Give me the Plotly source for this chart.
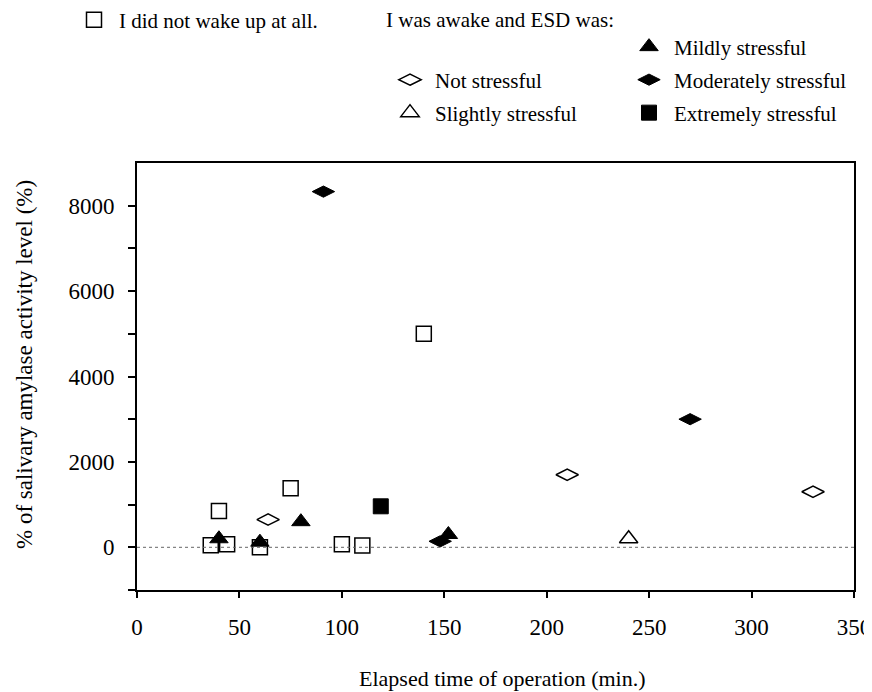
import plotly.graph_objects as go

# ---- data ----
no_wake_x = [36, 40, 44, 60, 75, 100, 110, 140]
no_wake_y = [50, 850, 70, 0, 1380, 70, 40, 5000]

not_x = [64, 210, 330]
not_y = [650, 1700, 1300]

slight_x = [240]
slight_y = [200]

mild_x = [40, 60, 80, 152]
mild_y = [200, 120, 600, 300]

moderate_x = [91, 148, 270]
moderate_y = [8330, 140, 3000]

extreme_x = [119]
extreme_y = [960]

x_ticks = [0, 50, 100, 150, 200, 250, 300, 350]
y_ticks = [0, 2000, 4000, 6000, 8000]
y_minor = [-1000, 1000, 3000, 5000, 7000]

FONT = "Liberation Serif"
OFF = 8                      # page body margin of the html page
W, H = 872 - OFF, 692 - OFF  # figure size so the picture fills the window
# plot area in window pixels: x 137..854, y 163..590
ML, MT = 137 - OFF, 163 - OFF
MR, MB = 872 - 854, 692 - 590
PW, PH = W - ML - MR, H - MT - MB
ITEMW = 40

def px2paper(px, py):
    """window pixel -> paper coordinates"""
    return (px - OFF - ML) / PW, (H - MB - (py - OFF)) / PH

fig = go.Figure()

def add(x, y, name, symbol, size, filled, legend):
    fig.add_trace(go.Scatter(
        x=x, y=y, mode="markers", name=name, legend=legend, showlegend=True,
        marker=dict(symbol=symbol, size=size, color="black",
                    line=dict(color="black", width=1 if filled else 1.5)),
    ))

add(no_wake_x, no_wake_y, "I did not wake up at all.", "square-open", 15, False, "legend")
add(not_x, not_y, "Not stressful", "diamond-wide-open", 16, False, "legend3")
add(slight_x, slight_y, "Slightly stressful", "triangle-up-open", 16, False, "legend5")
add(mild_x, mild_y, "Mildly stressful", "triangle-up", 16, True, "legend2")
add(moderate_x, moderate_y, "Moderately stressful", "diamond-wide", 16, True, "legend4")
add(extreme_x, extreme_y, "Extremely stressful", "square", 15, True, "legend6")

def leg(sym_px, py):
    # sym_px: window x of the legend symbol centre
    left = sym_px - ITEMW / 2 - 5
    return dict(xref="container", yref="container",
                x=(left - OFF) / W, y=1 - (py - OFF) / H,
                xanchor="left", yanchor="middle", bgcolor="rgba(0,0,0,0)",
                font=dict(family=FONT, size=21, color="black"),
                itemwidth=ITEMW, borderwidth=0)

def ann(text, px, py, xanchor="center", angle=0, size=22):
    ax, ay = px2paper(px, py)
    return dict(text=text, xref="paper", yref="paper", x=ax, y=ay,
                xanchor=xanchor, yanchor="middle", textangle=angle,
                showarrow=False, font=dict(family=FONT, size=size, color="black"))

fig.update_layout(
    width=W, height=H,
    paper_bgcolor="white", plot_bgcolor="white",
    showlegend=True,
    margin=dict(l=ML, r=MR, t=MT, b=MB, autoexpand=False),
    font=dict(family=FONT, size=22, color="black"),
    legend=leg(94, 20),
    legend2=leg(649, 47),
    legend3=leg(410, 80),
    legend4=leg(649, 80),
    legend5=leg(410, 113),
    legend6=leg(649, 113),
    xaxis=dict(range=[0, 350], tickvals=x_ticks, showgrid=False, zeroline=False,
               showline=True, linecolor="black", linewidth=2, mirror=True,
               ticks="outside", ticklen=6, tickwidth=1.5, tickcolor="black",
               tickfont=dict(family=FONT, size=23), ticklabelstandoff=9,
               automargin=False),
    yaxis=dict(range=[-1000, 9000], tickvals=y_ticks, tickformat="d",
               showgrid=False, zeroline=False,
               showline=True, linecolor="black", linewidth=2, mirror=True,
               ticks="outside", ticklen=7, tickwidth=1.5, tickcolor="black",
               tickfont=dict(family=FONT, size=23), ticklabelstandoff=9,
               automargin=False,
               minor=dict(tickvals=y_minor, ticks="outside", ticklen=7,
                          tickwidth=1.5, tickcolor="black", showgrid=False)),
    shapes=[dict(type="line", xref="paper", x0=0, x1=1, yref="y", y0=0, y1=0,
                 line=dict(color="#666666", width=1, dash="dot"))],
    annotations=[
        ann("I was awake and ESD was:", 384, 20, xanchor="left", size=21),
        ann("Elapsed time of operation (min.)", 502, 678, size=22),
        ann("% of salivary amylase activity level (%)", 24, 365, angle=-90, size=23),
    ],
)

fig.write_html("out.html")
